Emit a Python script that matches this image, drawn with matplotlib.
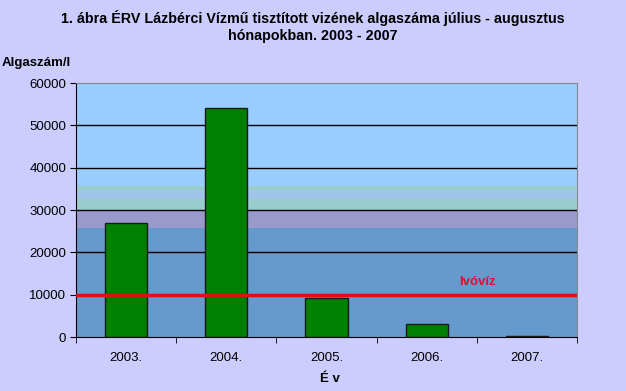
import matplotlib.pyplot as plt
import numpy as np

plt.rcParams['font.family'] = ['Liberation Sans', 'DejaVu Sans']

# adatok
years = ['2003.', '2004.', '2005.', '2006.', '2007.']
algae = [27000, 54200, 9100, 3000, 200]
limit_value = 10000
limit_label = 'Ivóvíz'
y_ticks = [0, 10000, 20000, 30000, 40000, 50000, 60000]

# háttér sávok (alsó határ, felső határ, szín)
band_edges = [0, 25800, 30000, 32500, 34700, 35600, 60000]
band_colors = ['#6699CC', '#9999CC', '#99CCCC', '#A0C4EA', '#99CCCC', '#99CCFF']

fig = plt.figure(figsize=(6.26, 3.91), dpi=100, facecolor='#CCCCFF')
ax = fig.add_axes([0.1214, 0.1381, 0.8003, 0.6496])

for lo, hi, c in zip(band_edges[:-1], band_edges[1:], band_colors):
    ax.axhspan(lo, hi, color=c, zorder=0, lw=0)

for t in y_ticks[1:-1]:
    ax.axhline(t, color='black', lw=1, zorder=1)

x = np.arange(len(years))
ax.bar(x, algae, width=0.42, color='#008000', edgecolor='#1a1a1a', lw=1, zorder=2)

ax.axhline(limit_value, color='#E01010', lw=2.5, zorder=3)
ax.text(3.51, limit_value + 1500, limit_label, color='#E01030', fontsize=9.5,
        fontweight='bold', ha='center', va='bottom', zorder=4)

ax.set_xlim(-0.5, len(years) - 0.5)
ax.set_ylim(0, 60000)
ax.set_yticks(y_ticks)
ax.set_yticklabels([str(t) for t in y_ticks], fontsize=9.5)
ax.set_xticks(x)
ax.set_xticklabels(years, fontsize=9.5)
ax.tick_params(axis='x', length=0, pad=11)
ax.set_xticks(np.arange(-0.5, len(years), 1.0), minor=True)
ax.tick_params(axis='x', which='minor', length=4, direction='out')
ax.tick_params(axis='y', length=4, direction='out', pad=3)

for s in ['top', 'right']:
    ax.spines[s].set_color('#888888')
for s in ['left', 'bottom']:
    ax.spines[s].set_color('black')

fig.text(0.5, 0.933, '1. ábra ÉRV Lázbérci Vízmű tisztított vizének algaszáma július - augusztus\nhónapokban. 2003 - 2007',
         ha='center', va='center', fontsize=10.3, fontweight='bold', linespacing=1.25)
fig.text(0.003, 0.838, 'Algaszám/l', ha='left', va='center', fontsize=9.5, fontweight='bold')
fig.text(0.527, 0.03, 'É v', ha='center', va='center', fontsize=9.5, fontweight='bold')

fig.savefig('out.png', dpi=100, facecolor=fig.get_facecolor())
